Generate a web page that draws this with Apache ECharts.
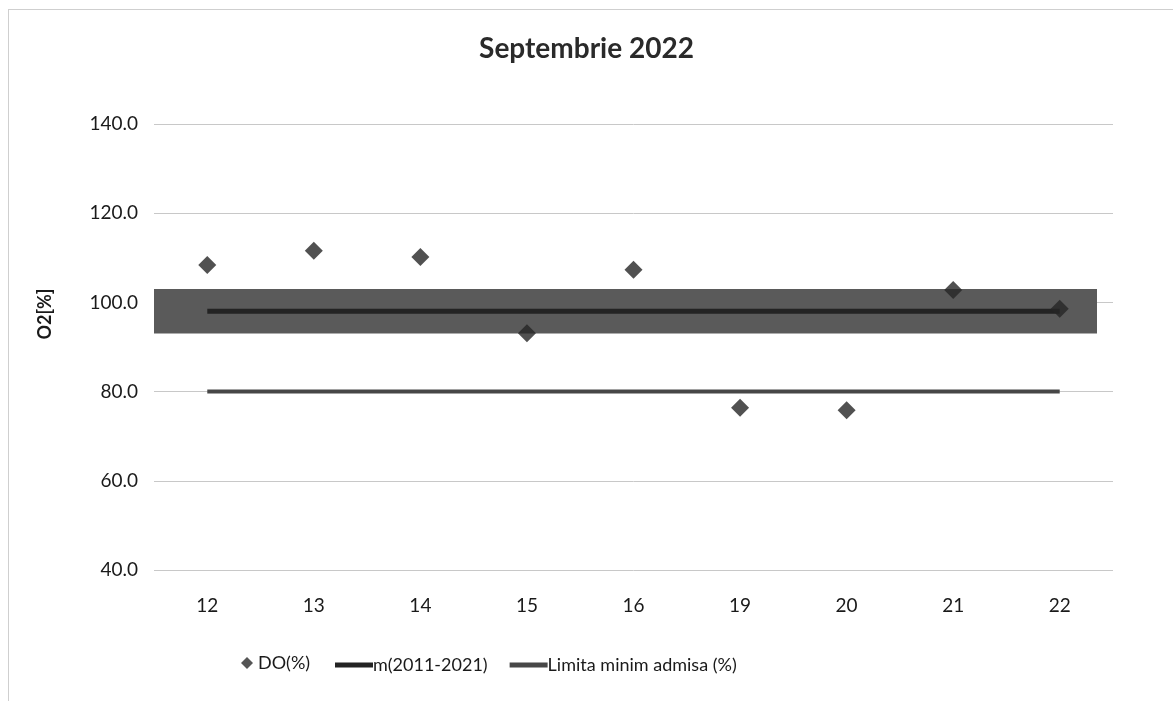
<!DOCTYPE html>
<html><head><meta charset="utf-8">
<script src="https://cdn.jsdelivr.net/npm/echarts@6/dist/echarts.min.js"></script>
<style>
html,body{margin:0;padding:0;background:#fff;}
#frame{position:absolute;left:8px;top:9px;width:1175px;height:700px;border:1px solid #cfcfcf;box-sizing:border-box;}
#c{position:absolute;left:0;top:0;width:1173px;height:701px;}
</style></head>
<body><div id="frame"></div><div id="c"></div>
<script>
const categories = ['12','13','14','15','16','19','20','21','22'];
const doValues = [108.4, 111.6, 110.2, 93.1, 107.3, 76.4, 75.8, 102.8, 98.6];
const meanValues = [98, 98, 98, 98, 98, 98, 98, 98, 98];
const limitValues = [80, 80, 80, 80, 80, 80, 80, 80, 80];
const bandRange = [93, 103];
const yTicks = {min: 40, max: 140, interval: 20};

const font = 'Lato, "Open Sans", sans-serif';
const chart = echarts.init(document.getElementById('c'));
chart.setOption({
  animation: false,
  title: {text: 'Septembrie 2022', left: 'center', top: 30,
    textStyle: {fontFamily: font, fontSize: 28, fontWeight: 'bold', color: '#2a2a2a'}},
  grid: {left: 154, right: 60, top: 124, bottom: 131},
  legend: [
    {left: 236, bottom: 24, itemWidth: 12, itemHeight: 12,
      textStyle: {fontFamily: font, fontSize: 18, color: '#1a1a1a'},
      data: [{name: 'DO(%)', icon: 'diamond', itemStyle: {color: '#2b2b2b'}}]},
    {left: 330, bottom: 22, itemWidth: 38, itemHeight: 5, itemGap: 22,
      textStyle: {fontFamily: font, fontSize: 18, color: '#1a1a1a', padding: [0,0,0,-5]},
      data: [{name: 'm(2011-2021)', icon: 'rect'}, {name: 'Limita minim admisa (%)', icon: 'rect'}]}
  ],
  xAxis: {type: 'category', data: categories, boundaryGap: true,
    axisLine: {show: false}, axisTick: {show: false},
    axisLabel: {fontFamily: font, fontSize: 19, color: '#1a1a1a', margin: 26}},
  yAxis: {type: 'value', min: yTicks.min, max: yTicks.max, interval: yTicks.interval,
    name: 'O2[%]', nameLocation: 'middle', nameGap: 100, nameRotate: 90,
    nameTextStyle: {fontFamily: font, fontSize: 18, fontWeight: 'bold', color: '#1a1a1a', padding: [0,0,0,66]},
    axisLabel: {fontFamily: font, fontSize: 19, color: '#1a1a1a', margin: 16,
      formatter: v => v.toFixed(1)},
    splitLine: {lineStyle: {color: '#c8c8c8', width: 1}},
    axisLine: {show: false}, axisTick: {show: false}},
  series: [
    {name: 'm(2011-2021)', type: 'line', data: meanValues, symbol: 'none',
      lineStyle: {color: '#232323', width: 5}, itemStyle: {color: '#232323'}, z: 3,
      markArea: {silent: true, itemStyle: {color: '#5a5a5a'},
        data: [[{yAxis: bandRange[0], x: 154}, {yAxis: bandRange[1], x: 1097}]]}},
    {name: 'Limita minim admisa (%)', type: 'line', data: limitValues, symbol: 'none',
      lineStyle: {color: '#474747', width: 4}, itemStyle: {color: '#474747'}, z: 3},
    {name: 'DO(%)', type: 'scatter', data: doValues, symbol: 'diamond', symbolSize: 18,
      itemStyle: {color: '#262626'}, z: 5}
  ]
});
</script></body></html>
